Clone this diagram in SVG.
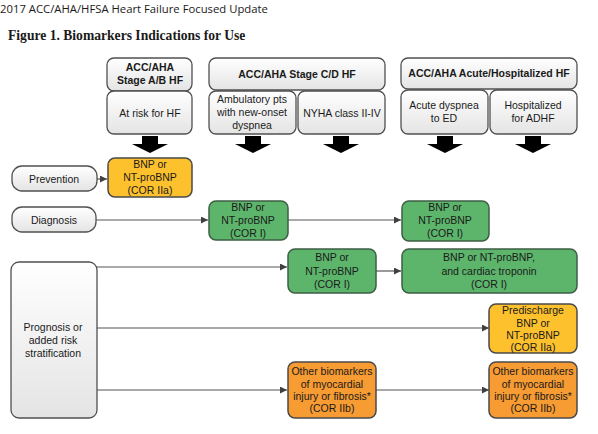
<svg xmlns="http://www.w3.org/2000/svg" width="598" height="434" viewBox="0 0 598 434">
<defs>
<linearGradient id="hg" x1="0" y1="0" x2="0" y2="1"><stop offset="0" stop-color="#ffffff"/><stop offset="1" stop-color="#e4e4e4"/></linearGradient>
<marker id="ah" viewBox="0 0 10 10" refX="10" refY="5" markerWidth="7" markerHeight="7" markerUnits="userSpaceOnUse" orient="auto"><path d="M0,0 L10,5 L0,10 z" fill="#404040"/></marker>
<path id="blk" d="M-8,0 H8 V8 H18 L0,17 L-18,8 H-8 Z"/>
</defs>
<style>
text{font-family:"Liberation Sans",Arial,sans-serif;font-size:10.5px;fill:#1a1a1a;text-anchor:middle}
.b{font-weight:bold}
.hd{fill:url(#hg);stroke:#505050;stroke-width:1.3}
.y{fill:#FDC12E;stroke:#4a4a4a;stroke-width:1.5}
.g{fill:#5DB56C;stroke:#3d5e44;stroke-width:1.5}
.o{fill:#F79B33;stroke:#4a4a4a;stroke-width:1.5}
.c{stroke:#555;stroke-width:1.2;fill:none;marker-end:url(#ah)}
.ba{fill:#000}
</style>
<rect width="598" height="434" fill="#fff"/>
<text x="0" y="13" style="text-anchor:start;font-family:'Open Sans','Liberation Sans',sans-serif;font-size:11.3px">2017 ACC/AHA/HFSA Heart Failure Focused Update</text>
<text x="8" y="40" style="text-anchor:start;font-family:'Liberation Serif',serif;font-size:13.6px;font-weight:bold">Figure 1. Biomarkers Indications for Use</text>

<g id="hdr-ab"><rect class="hd" x="107" y="58" width="85" height="33" rx="7"/><text class="b" x="150" y="71">ACC/AHA</text><text class="b" x="150" y="84">Stage A/B HF</text></g>
<g id="risk"><rect class="hd" x="107" y="91" width="85" height="43" rx="7"/><text x="150" y="117">At risk for HF</text></g>
<g id="hdr-cd"><rect class="hd" x="209" y="58" width="176" height="32" rx="7"/><text class="b" x="297" y="78">ACC/AHA Stage C/D HF</text></g>
<g id="amb"><rect class="hd" x="209" y="91" width="87" height="43" rx="7"/><text x="252" y="103">Ambulatory pts</text><text x="252" y="116">with new-onset</text><text x="252" y="129">dyspnea</text></g>
<g id="nyha"><rect class="hd" x="298" y="91" width="87" height="43" rx="7"/><text x="342" y="117">NYHA class II-IV</text></g>
<g id="hdr-acute"><rect class="hd" x="401" y="58" width="176" height="31" rx="7"/><text class="b" x="489" y="77">ACC/AHA Acute/Hospitalized  HF</text></g>
<g id="ed"><rect class="hd" x="401" y="90" width="87" height="44" rx="7"/><text x="444" y="109">Acute dyspnea</text><text x="444" y="122">to ED</text></g>
<g id="adhf"><rect class="hd" x="490" y="90" width="87" height="44" rx="7"/><text x="533" y="109">Hospitalized</text><text x="533" y="122">for ADHF</text></g>

<g id="block-arrows" class="ba">
<use href="#blk" x="150" y="136"/><use href="#blk" x="253" y="136"/><use href="#blk" x="341" y="136"/><use href="#blk" x="445" y="136"/><use href="#blk" x="533" y="136"/>
</g>

<g id="connectors">
<line class="c" x1="97" y1="179" x2="107" y2="179"/>
<line class="c" x1="96" y1="220" x2="208" y2="220"/>
<line class="c" x1="288" y1="220" x2="401" y2="220"/>
<line class="c" x1="96" y1="267" x2="287" y2="267"/>
<line class="c" x1="376" y1="271" x2="401" y2="271"/>
<line class="c" x1="96" y1="328" x2="489" y2="328"/>
<line class="c" x1="96" y1="390" x2="287" y2="390"/>
<line class="c" x1="376" y1="390" x2="489" y2="390"/>
</g>

<g id="prevention"><rect class="hd" x="12" y="166" width="85" height="25" rx="10"/><text x="54" y="183">Prevention</text></g>
<g id="prev-bnp"><rect class="y" x="108" y="158" width="84" height="39" rx="7"/><text x="150" y="168">BNP or</text><text x="150" y="181">NT-proBNP</text><text x="150" y="194">(COR IIa)</text></g>
<g id="diagnosis"><rect class="hd" x="12" y="207" width="84" height="25" rx="10"/><text x="54" y="224">Diagnosis</text></g>
<g id="diag-bnp1"><rect class="g" x="209" y="201" width="79" height="39" rx="7"/><text x="248" y="211">BNP or</text><text x="248" y="224">NT-proBNP</text><text x="248" y="237">(COR I)</text></g>
<g id="diag-bnp2"><rect class="g" x="402" y="201" width="87" height="40" rx="7"/><text x="445" y="211">BNP or</text><text x="445" y="224">NT-proBNP</text><text x="445" y="237">(COR I)</text></g>
<g id="prognosis"><rect class="hd" x="11" y="262" width="86" height="156" rx="8"/><text x="53" y="331">Prognosis or</text><text x="53" y="344">added risk</text><text x="53" y="357">stratification</text></g>
<g id="prog-bnp"><rect class="g" x="288" y="249" width="88" height="44" rx="7"/><text x="332" y="261">BNP or</text><text x="332" y="275">NT-proBNP</text><text x="332" y="288">(COR I)</text></g>
<g id="prog-trop"><rect class="g" x="402" y="249" width="175" height="44" rx="7"/><text x="489" y="261">BNP or NT-proBNP,</text><text x="489" y="275">and cardiac troponin</text><text x="489" y="288">(COR I)</text></g>
<g id="predischarge"><rect class="y" x="489" y="304" width="88" height="49" rx="7"/><text x="533" y="314">Predischarge</text><text x="533" y="327">BNP or</text><text x="533" y="339">NT-proBNP</text><text x="533" y="351">(COR IIa)</text></g>
<g id="other1"><rect class="o" x="288" y="362" width="88" height="56" rx="7"/><text x="332" y="375">Other biomarkers</text><text x="332" y="388">of myocardial</text><text x="332" y="400">injury or fibrosis*</text><text x="332" y="412">(COR IIb)</text></g>
<g id="other2"><rect class="o" x="489" y="362" width="88" height="56" rx="7"/><text x="533" y="375">Other biomarkers</text><text x="533" y="388">of myocardial</text><text x="533" y="400">injury or fibrosis*</text><text x="533" y="412">(COR IIb)</text></g>
</svg>
